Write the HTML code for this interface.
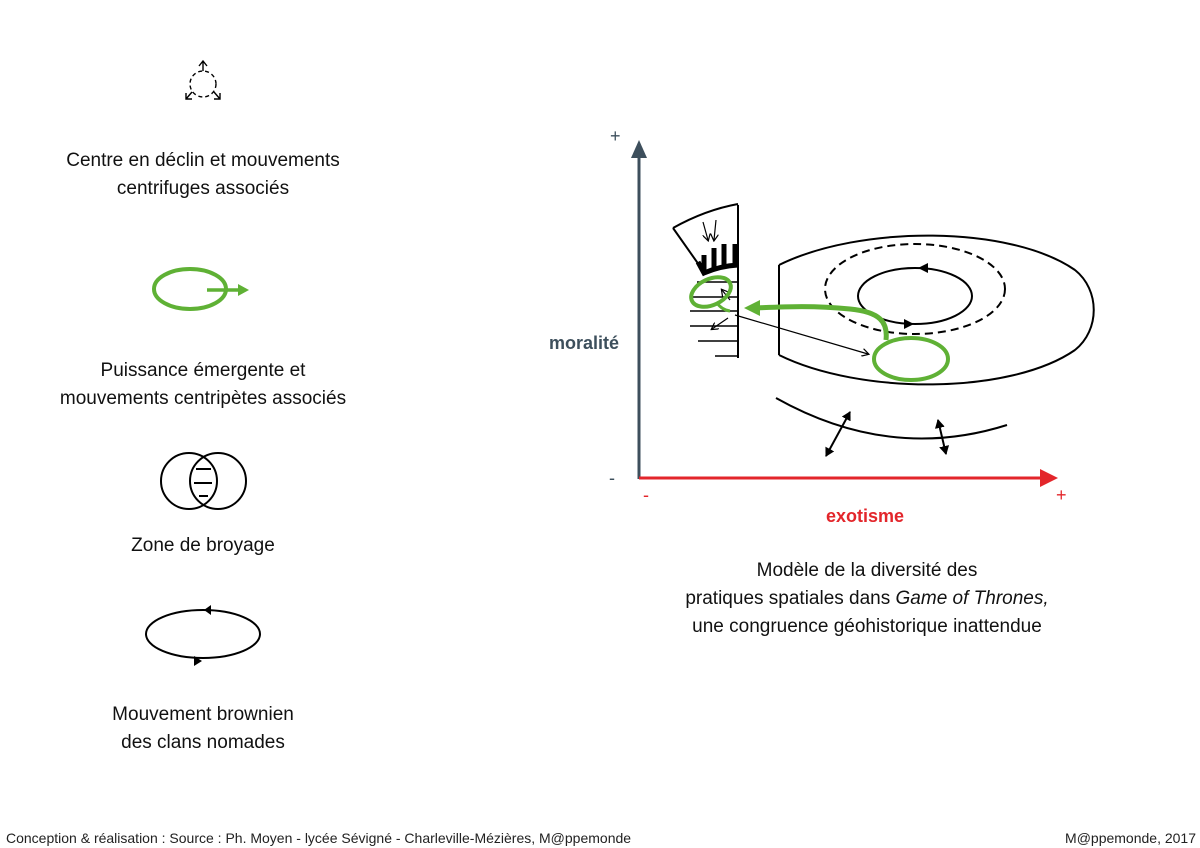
<!DOCTYPE html>
<html><head><meta charset="utf-8"><style>
html,body{margin:0;padding:0;background:#fff}
svg{display:block}
text{font-family:"Liberation Sans",sans-serif}
</style></head><body>
<svg width="1200" height="848" viewBox="0 0 1200 848" xmlns="http://www.w3.org/2000/svg">
<defs>
<marker id="ah" markerWidth="8" markerHeight="8" refX="6" refY="4" orient="auto" markerUnits="userSpaceOnUse"><path d="M0,0 L7,4 L0,8" fill="none" stroke="#000" stroke-width="1.2"/></marker>
<marker id="ahs" markerWidth="10" markerHeight="10" refX="8" refY="5" orient="auto-start-reverse" markerUnits="userSpaceOnUse"><path d="M0,0 L9,5 L0,10 z" fill="#000"/></marker>
</defs>
<!-- Legend -->
<g fill="none" stroke="#000" stroke-width="1.4">
<circle cx="203" cy="84" r="13" stroke-dasharray="4,3"/>
<path d="M203 71 V62 M199 66 L203 61 L207 66"/>
<path d="M192 92 L186 99 M186 93 V99 H192"/>
<path d="M214 92 L220 99 M220 93 V99 H214"/>
</g>
<g font-size="19" text-anchor="middle" fill="#111">
<text x="203" y="166">Centre en déclin et mouvements</text>
<text x="203" y="194">centrifuges associés</text>
<text x="203" y="376">Puissance émergente et</text>
<text x="203" y="404">mouvements centripètes associés</text>
<text x="203" y="551">Zone de broyage</text>
<text x="203" y="720">Mouvement brownien</text>
<text x="203" y="748">des clans nomades</text>
</g>
<ellipse cx="190" cy="289" rx="36" ry="20" fill="none" stroke="#5fb135" stroke-width="4"/>
<path d="M207 290 H240" stroke="#5fb135" stroke-width="3.5"/>
<path d="M238 284 L249 290 L238 296z" fill="#5fb135"/>
<g fill="none" stroke="#000" stroke-width="2">
<circle cx="189" cy="481" r="28"/><circle cx="218" cy="481" r="28"/>
<path d="M196 469 H211 M194 483 H212 M199 496 H208"/>
<ellipse cx="203" cy="634" rx="57" ry="24"/>
</g>
<path d="M211 605 L204 610 L211 615z" fill="#000"/>
<path d="M194 656 L202 661 L194 666z" fill="#000"/>
<!-- Axes -->
<path d="M639 479 V155" stroke="#3d4f5c" stroke-width="3"/>
<path d="M631 158 L639 140 L647 158z" fill="#3d4f5c"/>
<path d="M639 478 H1045" stroke="#e3262b" stroke-width="3"/>
<path d="M1040 469 L1058 478 L1040 487z" fill="#e3262b"/>
<text x="610" y="142" font-size="18" fill="#3d4f5c">+</text>
<text x="609" y="484" font-size="18" fill="#3d4f5c">-</text>
<text x="643" y="501" font-size="18" fill="#e3262b">-</text>
<text x="1056" y="501" font-size="18" fill="#e3262b">+</text>
<text x="549" y="349" font-size="18" font-weight="bold" fill="#3d4f5c">moralité</text>
<text x="865" y="522" font-size="18" font-weight="bold" fill="#e3262b" text-anchor="middle">exotisme</text>
<g font-size="19" text-anchor="middle" fill="#111">
<text x="867" y="576">Modèle de la diversité des</text>
<text x="867" y="604">pratiques spatiales dans  <tspan font-style="italic">Game of Thrones,</tspan></text>
<text x="867" y="632">une congruence géohistorique inattendue</text>
</g>
<!-- Diagram -->
<g fill="none" stroke="#000" stroke-width="2">
<path d="M738 205 V358"/>
<path d="M673 228 Q705 210 738 204 M673 228 L704 272 Q720 266 738 265"/>
<path d="M697 282 H738 M690 297 H738 M690 311 H738 M690 326 H738 M698 341 H738 M715 356 H738" stroke-width="1.6"/>
<path d="M779 265 V355 M779 265 C860 225 1010 225 1075 270 M779 355 C860 395 1010 395 1075 350 M1075 270 C1100 290 1100 330 1075 350"/>
<ellipse cx="915" cy="289" rx="90" ry="45" stroke-dasharray="8,5"/>
<ellipse cx="915" cy="296" rx="57" ry="28"/>
<path d="M776 398 Q890 462 1007 425"/>
</g>
<path d="M928 263 L918 268 L928 273z" fill="#000"/>
<path d="M904 319 L914 324 L904 329z" fill="#000"/>
<g stroke="#000" stroke-width="1.2" fill="none">
<path d="M703 222 L708 240" marker-end="url(#ah)"/>
<path d="M716 220 L714 240" marker-end="url(#ah)"/>
<path d="M735 315 L868 354" marker-end="url(#ah)"/>
<path d="M730 300 L722 290" marker-end="url(#ah)"/>
<path d="M728 318 L712 329" marker-end="url(#ah)"/>
</g>
<path d="M704 270 V255 M714 270 V248 M724 266 V244 M735 265 V244" stroke="#000" stroke-width="5"/>
<path d="M698 262 L704 273 Q720 266 738 265" stroke="#000" stroke-width="5" fill="none"/>
<g stroke="#000" stroke-width="2">
<path d="M826 456 L850 412" marker-start="url(#ahs)" marker-end="url(#ahs)"/>
<path d="M946 454 L938 420" marker-start="url(#ahs)" marker-end="url(#ahs)"/>
</g>
<g fill="none" stroke="#5fb135">
<ellipse cx="911" cy="359" rx="37" ry="21" stroke-width="4"/>
<path d="M886 340 C888 322 880 312 850 309 C810 305 780 307 755 308" stroke-width="5"/>
<ellipse cx="711" cy="292" rx="21" ry="13" transform="rotate(-25 711 292)" stroke-width="4"/>
<path d="M717 303 Q722 310 730 311" stroke-width="3"/>
</g>
<path d="M760 300 L744 308 L760 316z" fill="#5fb135"/>
<!-- Footer -->
<text x="6" y="843" font-size="14" fill="#222">Conception &amp; réalisation : Source : Ph. Moyen - lycée Sévigné - Charleville-Mézières, M@ppemonde</text>
<text x="1196" y="843" font-size="14" fill="#222" text-anchor="end">M@ppemonde, 2017</text>
</svg>
</body></html>
